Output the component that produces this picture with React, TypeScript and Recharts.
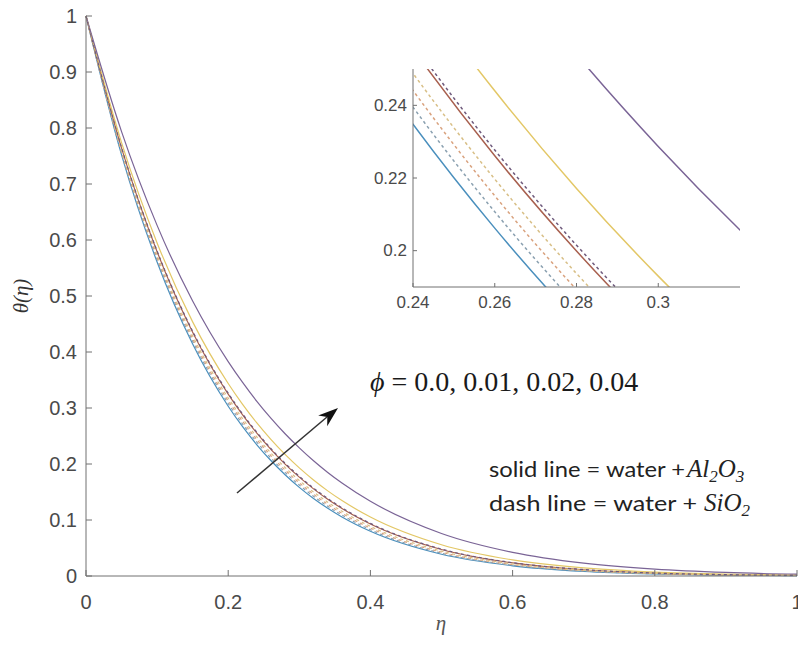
import { LineChart, Line, XAxis, YAxis } from "recharts";

// eta grid (finer around the zoomed window)
const eta = [0, 0.05, 0.1, 0.15, 0.2, 0.22, 0.24, 0.26, 0.28, 0.3, 0.32, 0.34, 0.36, 0.4, 0.5, 0.6, 0.7, 0.8, 0.9, 1.0];

// water + Al2O3 (solid)
const al0 = [1, 0.752, 0.5606, 0.4141, 0.3032, 0.267, 0.2348, 0.2062, 0.1808, 0.1583, 0.1384, 0.1209, 0.1054, 0.0798, 0.0388, 0.0182, 0.0082, 0.0036, 0.0015, 0.0006];
const al1 = [1, 0.764, 0.5791, 0.4354, 0.3248, 0.2882, 0.2555, 0.2261, 0.1999, 0.1765, 0.1556, 0.137, 0.1205, 0.0929, 0.0474, 0.0234, 0.0112, 0.0052, 0.0023, 0.001];
const al2 = [1, 0.774, 0.5948, 0.4538, 0.3438, 0.307, 0.2738, 0.244, 0.2171, 0.193, 0.1714, 0.152, 0.1347, 0.1053, 0.0558, 0.0287, 0.0144, 0.007, 0.0033, 0.0015];
const al4 = [1, 0.7936, 0.6261, 0.4911, 0.3829, 0.3461, 0.3124, 0.2819, 0.254, 0.2287, 0.2057, 0.1849, 0.166, 0.1334, 0.076, 0.0423, 0.023, 0.0122, 0.0063, 0.0032];

// water + SiO2 (dashed)
const si0 = [1, 0.7548, 0.5648, 0.419, 0.3081, 0.2718, 0.2395, 0.2107, 0.1851, 0.1624, 0.1423, 0.1244, 0.1087, 0.0826, 0.0406, 0.0193, 0.0088, 0.0039, 0.0017, 0.0007];
const si1 = [1, 0.7575, 0.569, 0.4238, 0.3129, 0.2766, 0.2441, 0.2151, 0.1893, 0.1664, 0.1461, 0.128, 0.1121, 0.0855, 0.0425, 0.0204, 0.0095, 0.0043, 0.0018, 0.0008];
const si2 = [1, 0.7602, 0.5732, 0.4286, 0.3179, 0.2814, 0.2488, 0.2197, 0.1937, 0.1706, 0.15, 0.1318, 0.1156, 0.0886, 0.0445, 0.0216, 0.0102, 0.0046, 0.002, 0.0009];
const si4 = [1, 0.7649, 0.5805, 0.4371, 0.3265, 0.2899, 0.2571, 0.2277, 0.2015, 0.178, 0.157, 0.1384, 0.1218, 0.094, 0.0481, 0.0238, 0.0115, 0.0053, 0.0024, 0.0011];

const xTicks = [0, 0.2, 0.4, 0.6, 0.8, 1];
const yTicks = [0, 0.1, 0.2, 0.3, 0.4, 0.5, 0.6, 0.7, 0.8, 0.9, 1];
const insetXTicks = [0.24, 0.26, 0.28, 0.3];
const insetYTicks = [0.2, 0.22, 0.24];

const rows = eta.map((e, i) => ({
  eta: e,
  al0: al0[i], al1: al1[i], al2: al2[i], al4: al4[i],
  si0: si0[i], si1: si1[i], si2: si2[i], si4: si4[i],
}));

const BLUE = "#4a8fbd";
const ORANGE = "#a8604f";
const YELLOW = "#e3c766";
const PURPLE = "#7a6496";
const AXIS = "#707070";
const TEXT = "#4a4a4a";

const series = [
  { key: "al0", color: BLUE, dash: undefined },
  { key: "al1", color: ORANGE, dash: undefined },
  { key: "al2", color: YELLOW, dash: undefined },
  { key: "al4", color: PURPLE, dash: undefined },
  { key: "si0", color: "#8aa0b0", dash: "3 3" },
  { key: "si1", color: "#d9a27e", dash: "3 3" },
  { key: "si2", color: "#d8bf86", dash: "3 3" },
  { key: "si4", color: "#6e5a7c", dash: "3 3" },
];

// MATLAB-like ticks: marks point inwards, labels outside
function tick(side: string, len: number, margin: number, fontSize: number, label: boolean) {
  return (props: any) => {
    const { x, y, payload } = props;
    if (side === "bottom") {
      const ay = y - margin;
      return (
        <g>
          <line x1={x} y1={ay} x2={x} y2={ay - len} stroke={AXIS} />
          {label && (
            <text x={x} y={y} textAnchor="middle" dominantBaseline="central" fontSize={fontSize} fill={TEXT} fontFamily="Liberation Sans, Arial, sans-serif">
              {payload.value}
            </text>
          )}
        </g>
      );
    }
    if (side === "left") {
      const ax = x + margin;
      return (
        <g>
          <line x1={ax} y1={y} x2={ax + len} y2={y} stroke={AXIS} />
          {label && (
            <text x={x} y={y} textAnchor="end" dominantBaseline="central" fontSize={fontSize} fill={TEXT} fontFamily="Liberation Sans, Arial, sans-serif">
              {payload.value}
            </text>
          )}
        </g>
      );
    }
    if (side === "top") {
      return <line x1={x} y1={y} x2={x} y2={y + len} stroke={AXIS} />;
    }
    return <line x1={x - len} y1={y} x2={x} y2={y} stroke={AXIS} />;
  };
}

export default function App() {
  return (
    <div style={{ position: "absolute", left: 0, top: 0, width: 798, height: 646, background: "#fff" }}>
      <LineChart width={798} height={646} data={rows} margin={{ top: 16, right: 1, left: 0, bottom: 0 }}>
        <XAxis dataKey="eta" type="number" domain={[0, 1]} ticks={xTicks} interval={0} height={70}
          axisLine={{ stroke: AXIS }} tickLine={false} tickSize={0} tickMargin={26} tick={tick("bottom", 6, 26, 20, true)} />
        <XAxis xAxisId="top" orientation="top" dataKey="eta" type="number" domain={[0, 1]} ticks={xTicks} interval={0} height={0}
          axisLine={{ stroke: AXIS }} tickLine={false} tickSize={0} tickMargin={0} tick={tick("top", 6, 0, 0, false)} />
        <YAxis type="number" domain={[0, 1]} ticks={yTicks} interval={0} width={86}
          axisLine={{ stroke: AXIS }} tickLine={false} tickSize={0} tickMargin={9} tick={tick("left", 6, 9, 20, true)} />
        <YAxis yAxisId="right" orientation="right" type="number" domain={[0, 1]} ticks={yTicks} interval={0} width={0}
          axisLine={{ stroke: AXIS }} tickLine={false} tickSize={0} tickMargin={0} tick={tick("right", 6, 0, 0, false)} />
        {series.map((s) => (
          <Line key={s.key} type="monotone" dataKey={s.key} stroke={s.color} strokeWidth={1.2}
            strokeDasharray={s.dash} dot={false} isAnimationActive={false} />
        ))}
      </LineChart>

      {/* zoomed window */}
      <div style={{ position: "absolute", left: 340, top: 50 }}>
        <LineChart width={401} height={270} data={rows} margin={{ top: 19, right: 1, left: 0, bottom: 0 }}>
          <XAxis dataKey="eta" type="number" domain={[0.24, 0.32]} allowDataOverflow ticks={insetXTicks} interval={0} height={33}
            axisLine={{ stroke: AXIS }} tickLine={false} tickSize={0} tickMargin={15} tick={tick("bottom", 4, 15, 17, true)} />
          <XAxis xAxisId="top" orientation="top" dataKey="eta" type="number" domain={[0.24, 0.32]} allowDataOverflow ticks={insetXTicks} interval={0} height={0}
            axisLine={{ stroke: AXIS }} tickLine={false} tickSize={0} tickMargin={0} tick={tick("top", 4, 0, 0, false)} />
          <YAxis type="number" domain={[0.19, 0.25]} allowDataOverflow ticks={insetYTicks} interval={0} width={73}
            axisLine={{ stroke: AXIS }} tickLine={false} tickSize={0} tickMargin={6} tick={tick("left", 4, 6, 17, true)} />
          <YAxis yAxisId="right" orientation="right" type="number" domain={[0.19, 0.25]} allowDataOverflow ticks={insetYTicks} interval={0} width={0}
            axisLine={{ stroke: AXIS }} tickLine={false} tickSize={0} tickMargin={0} tick={tick("right", 4, 0, 0, false)} />
          {series.map((s) => (
            <Line key={s.key} type="monotone" dataKey={s.key} stroke={s.color} strokeWidth={1.5}
              strokeDasharray={s.dash} dot={false} isAnimationActive={false} />
          ))}
        </LineChart>
      </div>

      <svg width={798} height={646} style={{ position: "absolute", left: 0, top: 0, pointerEvents: "none" }}>
        <text transform="translate(28,296) rotate(-90)" textAnchor="middle" fontSize={21} fontStyle="italic"
          fontFamily="Liberation Serif, serif" fill="#333">θ(η)</text>
        <text x={441} y={630} textAnchor="middle" fontSize={21} fontStyle="italic" fontFamily="Liberation Serif, serif" fill="#555">η</text>

        <line x1={237} y1={493} x2={327} y2={417} stroke="#333" strokeWidth={1.5} />
        <polygon points="338,408 327.2,426.3 327.3,417 318.2,415.5" fill="#111" />

        <text x={370} y={391} fontSize={28} fontFamily="Liberation Serif, serif" fill="#1a1a1a">
          <tspan fontStyle="italic">ϕ</tspan> = 0.0, 0.01, 0.02, 0.04
        </text>

        <text x={489} y={477} fontSize={21} textLength={196} lengthAdjust="spacingAndGlyphs" fontFamily="Lato, sans-serif" fill="#222">solid line = water +</text>
        <text x={687} y={477} fontSize={25} fontStyle="italic" fontFamily="Liberation Serif, serif" fill="#222">
          Al<tspan fontSize={17} dy={5}>2</tspan><tspan fontSize={25} dy={-5}>O</tspan><tspan fontSize={17} dy={5}>3</tspan>
        </text>
        <text x={489} y={511} fontSize={21} textLength={208} lengthAdjust="spacingAndGlyphs" fontFamily="Lato, sans-serif" fill="#222">dash line = water +</text>
        <text x={704} y={511} fontSize={25} fontStyle="italic" fontFamily="Liberation Serif, serif" fill="#222">
          SiO<tspan fontSize={17} dy={5}>2</tspan>
        </text>
      </svg>
    </div>
  );
}
